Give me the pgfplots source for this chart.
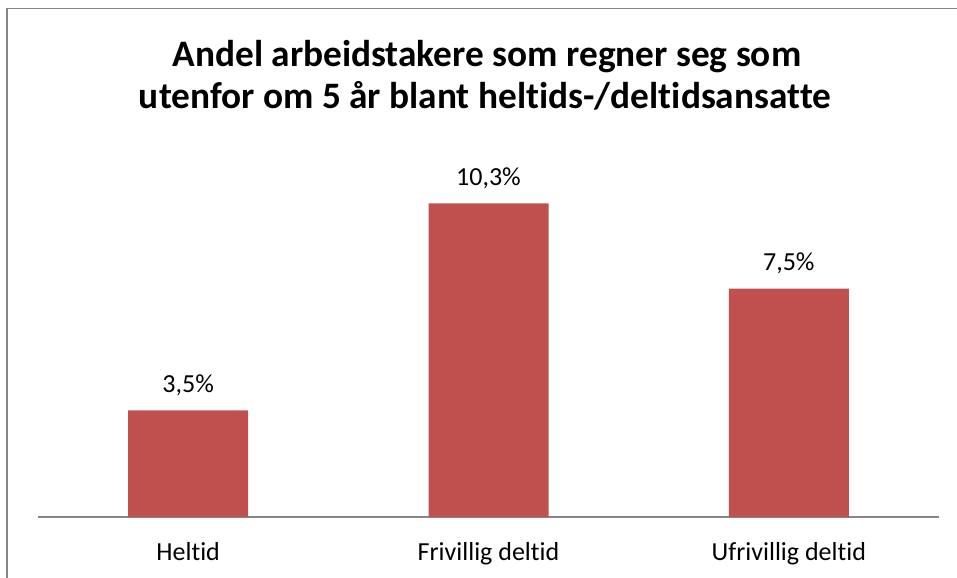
\documentclass[border=0pt]{standalone}
\usepackage{fontspec}
\setmainfont{Carlito}[Ligatures=NoCommon]
\usepackage{pgfplots}
\pgfplotsset{compat=1.18}
\definecolor{barred}{HTML}{C0504D}
\definecolor{framegray}{HTML}{868686}
\begin{document}
\begin{tikzpicture}[x=0.75pt,y=0.75pt]
\useasboundingbox (0,0) rectangle (957,578);
\draw[framegray, line width=1.1pt] (7,0) -- (7,569.5) -- (957,569.5);
\node[anchor=base, font=\fontsize{28pt}{33pt}\selectfont\bfseries] at (487,511) {Andel arbeidstakere som regner seg som};
\node[anchor=base, font=\fontsize{28pt}{33pt}\selectfont\bfseries] at (485,469) {utenfor om 5 år blant heltids-/deltidsansatte};
\begin{axis}[
  at={(28.5pt,45.75pt)}, anchor=south west,
  scale only axis,
  width=675.75pt, height=274pt,
  xmin=-0.5, xmax=2.5, ymin=0, ymax=12,
  axis x line*=bottom, axis y line=none,
  x axis line style={framegray, line width=1.4pt, -},
  xtick={0,1,2},
  xticklabels={Heltid, Frivillig deltid, Ufrivillig deltid},
  major tick length=0pt,
  xticklabel style={font=\fontsize{19.5pt}{23pt}\selectfont, anchor=base, yshift=-33pt},
  ybar, bar width=90pt,
  /pgf/number format/assume math mode=true,
  nodes near coords={\pgfmathprintnumber[fixed,fixed zerofill,precision=1,use comma,assume math mode=true]{\pgfplotspointmeta}\%},
  every node near coord/.append style={font=\fontsize{19.5pt}{23pt}\selectfont, anchor=base, yshift=13.5pt, inner sep=0pt},
  clip=false,
]
\addplot[fill=barred, draw=none] coordinates {(0,3.5) (1,10.3) (2,7.5)};
\end{axis}
\end{tikzpicture}
\end{document}
